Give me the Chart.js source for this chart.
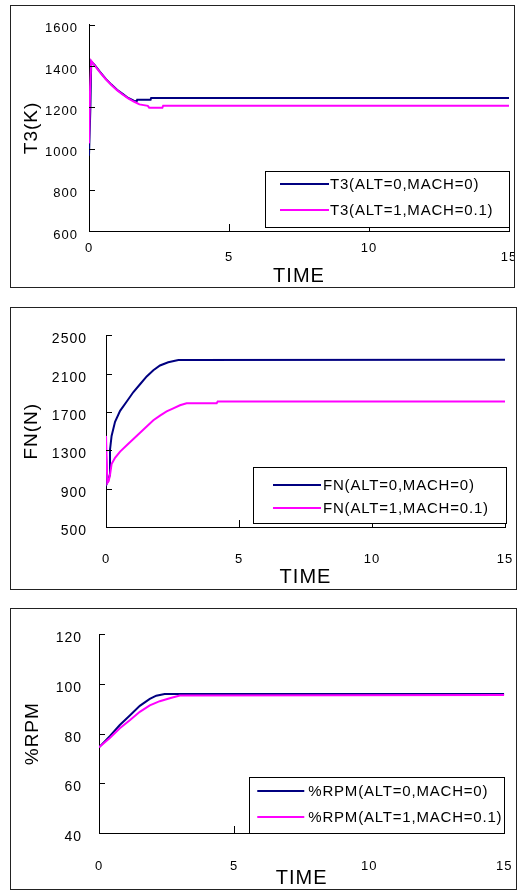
<!DOCTYPE html>
<html><head><meta charset="utf-8">
<script src="https://cdn.jsdelivr.net/npm/chart.js@4.4.1/dist/chart.umd.min.js"></script>
<style>
html,body{margin:0;padding:0;background:#fff;width:518px;height:891px;overflow:hidden;}
.panel{position:absolute;box-sizing:border-box;border:1px solid #222;overflow:hidden;background:#fff;}
.panel canvas{position:absolute;left:0;top:0;}
</style></head><body>
<div class="panel" style="left:10px;top:5px;width:505px;height:283px"><canvas id="c1" width="530" height="281" style="width:530px;height:281px"></canvas></div>
<div class="panel" style="left:10px;top:307px;width:507px;height:283px"><canvas id="c2" width="530" height="281" style="width:530px;height:281px"></canvas></div>
<div class="panel" style="left:10px;top:608px;width:507px;height:282px"><canvas id="c3" width="530" height="280" style="width:530px;height:280px"></canvas></div>
<script>
// ---- data ----
const timeTicks = [0, 5, 10, 15];
const seriesNames = ['(ALT=0,MACH=0)', '(ALT=1,MACH=0.1)'];

const t3Ticks = [600, 800, 1000, 1200, 1400, 1600];
const t3BaseTime = [0, 0.05, 0.08, 0.2, 0.4, 0.6, 0.8, 1.0, 1.2, 1.4, 1.6, 1.7, 1.72, 2.2, 2.22, 15];
const t3BaseVal  = [965, 1200, 1422, 1405, 1370, 1338, 1310, 1285, 1265, 1245, 1232, 1228, 1236, 1237, 1245, 1245];
const t3AltTime  = [0, 0.04, 0.08, 0.2, 0.4, 0.6, 0.8, 1.0, 1.2, 1.4, 1.6, 1.8, 2.1, 2.15, 2.62, 2.65, 15];
const t3AltVal   = [1025, 1300, 1425, 1403, 1368, 1336, 1308, 1283, 1262, 1243, 1228, 1214, 1207, 1198, 1198, 1208, 1208];

const fnTicks = [500, 900, 1300, 1700, 2100, 2500];
const fnBaseTime = [0, 0.04, 0.1, 0.14, 0.15, 0.21, 0.34, 0.53, 0.78, 1.03, 1.28, 1.53, 1.78, 2.03, 2.34, 2.72, 15];
const fnBaseVal  = [1250, 960, 1000, 1042, 1304, 1451, 1598, 1713, 1810, 1909, 1990, 2072, 2137, 2186, 2219, 2242, 2245];
const fnAltTime  = [0, 0.05, 0.1, 0.15, 0.21, 0.34, 0.53, 0.78, 1.03, 1.28, 1.53, 1.78, 2.03, 2.28, 2.53, 2.78, 3.03, 4.16, 4.2, 15];
const fnAltVal   = [1451, 960, 980, 1042, 1157, 1222, 1287, 1353, 1418, 1483, 1549, 1614, 1663, 1706, 1738, 1771, 1791, 1791, 1810, 1810];

const rpmTicks = [40, 60, 80, 100, 120];
const rpmBaseTime = [0, 0.4, 0.77, 1.14, 1.51, 1.88, 2.12, 2.43, 15];
const rpmBaseVal  = [74.5, 79.0, 83.5, 87.3, 91.2, 94.0, 95.3, 96.0, 96.0];
const rpmAltTime  = [0, 0.4, 0.77, 1.14, 1.51, 1.88, 2.25, 2.62, 2.99, 15];
const rpmAltVal   = [74.5, 78.3, 82.2, 85.4, 88.8, 91.4, 93.1, 94.3, 95.4, 95.6];

// ---- styling ----
const FONT = '"Liberation Sans", Arial, sans-serif';
Chart.defaults.font.family = FONT;
Chart.defaults.color = '#000';
const BLUE = '#000080', MAGENTA = '#FF00FF';

const pts = (ts, vs) => ts.map((t, i) => ({x: t, y: vs[i]}));

const spacingPlugin = {
  id: 'spacing',
  beforeLayout(c) { c.ctx.letterSpacing = '1px'; },
  beforeDraw(c) { c.ctx.letterSpacing = '1px'; }
};
const innerTicks = {
  id: 'innerTicks',
  afterDraw(c) {
    const {ctx, chartArea: a, scales: {x, y}} = c;
    ctx.save();
    ctx.strokeStyle = '#000'; ctx.lineWidth = 1;
    ctx.beginPath();
    y.ticks.forEach(t => { const p = Math.round(y.getPixelForValue(t.value)) + 0.5; ctx.moveTo(a.left, p); ctx.lineTo(a.left + 6, p); });
    x.ticks.forEach(t => { const p = Math.round(x.getPixelForValue(t.value)) + 0.5; ctx.moveTo(p, a.bottom); ctx.lineTo(p, a.bottom - 7); });
    ctx.stroke();
    ctx.restore();
  }
};
const boxLegend = {
  id: 'boxLegend',
  afterDraw(c, args, o) {
    const {ctx, chartArea: a} = c;
    const right = a.right + o.rightInset, bottom = a.bottom - o.bottomInset;
    const left = right - o.width, top = bottom - o.height;
    ctx.save();
    ctx.letterSpacing = '0.8px';
    ctx.fillStyle = '#fff';
    ctx.fillRect(left, top, o.width, o.height);
    ctx.strokeStyle = '#000'; ctx.lineWidth = 1;
    ctx.strokeRect(Math.round(left) + 0.5, Math.round(top) + 0.5, o.width, o.height);
    c.data.datasets.forEach((ds, i) => {
      const yy = top + o.rows[i];
      const x0 = left + o.lineStart;
      ctx.strokeStyle = ds.borderColor; ctx.lineWidth = 2;
      ctx.beginPath(); ctx.moveTo(x0, yy); ctx.lineTo(x0 + o.lineLen, yy); ctx.stroke();
      ctx.fillStyle = '#000';
      ctx.font = '15px ' + FONT;
      ctx.textBaseline = 'middle'; ctx.textAlign = 'left';
      ctx.fillText(ds.label, x0 + o.lineLen + o.gap, yy + 1);
    });
    ctx.restore();
  }
};

function makeChart(id, cfg) {
  return new Chart(document.getElementById(id), {
    type: 'line',
    data: {
      datasets: [
        {label: cfg.prefix + seriesNames[0], data: pts(cfg.baseT, cfg.baseV), borderColor: BLUE, borderWidth: 2, pointRadius: 0, fill: false, tension: 0, order: 1},
        {label: cfg.prefix + seriesNames[1], data: pts(cfg.altT, cfg.altV), borderColor: MAGENTA, borderWidth: 2, pointRadius: 0, fill: false, tension: 0, order: 0}
      ]
    },
    options: {
      responsive: false, animation: false,
      layout: {padding: {left: 0, top: cfg.padTop, right: cfg.padRight, bottom: 0}},
      plugins: {legend: {display: false}, tooltip: {enabled: false}, boxLegend: cfg.legend},
      scales: {
        x: {
          type: 'linear', min: 0, max: 15,
          afterBuildTicks: s => { s.ticks = timeTicks.map(v => ({value: v})); },
          afterFit: s => { s.height = cfg.xH; },
          grid: {display: false, drawTicks: false, tickLength: 0},
          border: {display: true, color: '#000', width: 1},
          ticks: {
            padding: cfg.xPad, maxRotation: 0, autoSkip: false, color: '#000',
            font: {size: 13, lineHeight: '9px'},
            callback: (v, i) => (cfg.stagger && i % 2 === 1) ? ['', String(v)] : String(v)
          },
          title: {display: true, text: 'TIME', color: '#000', font: {size: 20, lineHeight: 1}, padding: {top: 0, bottom: cfg.xTitlePad}}
        },
        y: {
          type: 'linear', min: cfg.yTicks[0], max: cfg.yTicks[cfg.yTicks.length - 1],
          afterBuildTicks: s => { s.ticks = cfg.yTicks.map(v => ({value: v})); },
          afterFit: s => { s.width = cfg.yW; },
          grid: {display: false, drawTicks: false, tickLength: 0},
          border: {display: true, color: '#000', width: 1},
          ticks: {padding: cfg.yPad, labelOffset: 4, color: '#000', font: {size: cfg.yFont}, callback: v => String(v)},
          title: {display: true, text: cfg.yTitle, color: '#000', font: {size: 19, lineHeight: 1}, padding: {top: cfg.yTitlePad, bottom: 0}}
        }
      }
    },
    plugins: [spacingPlugin, innerTicks, boxLegend]
  });
}

makeChart('c1', {
  prefix: 'T3', yTitle: 'T3(K)', yTicks: t3Ticks,
  baseT: t3BaseTime, baseV: t3BaseVal, altT: t3AltTime, altV: t3AltVal,
  padTop: 14, padRight: 32, yW: 78, xH: 56, xPad: 12.5, stagger: true, xTitlePad: 1,
  yPad: 11, yFont: 13, yTitlePad: 11.5,
  legend: {width: 244, height: 56, rightInset: 0, bottomInset: 4, rows: [13, 39], lineStart: 15, lineLen: 49, gap: 1}
});
makeChart('c2', {
  prefix: 'FN', yTitle: 'FN(N)', yTicks: fnTicks,
  baseT: fnBaseTime, baseV: fnBaseVal, altT: fnAltTime, altV: fnAltVal,
  padTop: 15, padRight: 36, yW: 95, xH: 62, xPad: 27.5, stagger: false, xTitlePad: 2,
  yPad: 19, yFont: 14, yTitlePad: 11.5,
  legend: {width: 253, height: 56, rightInset: 1, bottomInset: 4, rows: [18, 41], lineStart: 20, lineLen: 48, gap: 2}
});
makeChart('c3', {
  prefix: '%RPM', yTitle: '%RPM', yTicks: rpmTicks,
  baseT: rpmBaseTime, baseV: rpmBaseVal, altT: rpmAltTime, altV: rpmAltVal,
  padTop: 16, padRight: 34, yW: 88, xH: 56, xPad: 28.5, stagger: false, xTitlePad: 1,
  yPad: 17, yFont: 14, yTitlePad: 12.5,
  legend: {width: 255, height: 56, rightInset: 0, bottomInset: 0, rows: [14, 40], lineStart: 8, lineLen: 47, gap: 4}
});
</script>
</body></html>
